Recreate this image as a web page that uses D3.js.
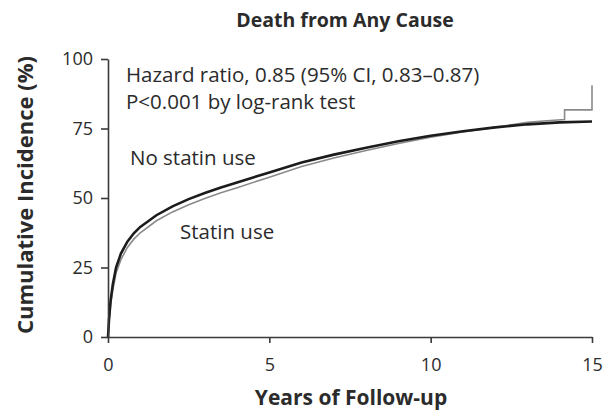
<!DOCTYPE html>
<html>
  <head>
    <title>Death from Any Cause</title>
    <script src="https://d3js.org/d3.v7.min.js"></script>
    <style>
      body {
        margin: 0;
        background-color: white;
      }
      svg text {
        font-family: "Open Sans", sans-serif;
        fill: #2b2b2b;
      }
      .axis path,
      .axis line {
        stroke: #3a3a3a;
        stroke-width: 1.6px;
      }
      .axis text {
        font-size: 18px;
      }
    </style>
  </head>
  <body>
    <script>
      // cumulative incidence (%) by years of follow-up
      const noStatinYears = [0, 0.03, 0.08, 0.15, 0.25, 0.4, 0.6, 0.8, 1, 1.5, 2, 2.5, 3, 3.5, 4, 5, 6, 7, 8, 9, 10, 11, 12, 13, 14, 15];
      const noStatinPct   = [0, 6, 13, 19, 25, 30, 34.3, 37.3, 39.6, 43.8, 47, 49.6, 51.8, 53.8, 55.6, 59.2, 62.8, 65.6, 68.1, 70.4, 72.4, 74, 75.4, 76.5, 77.2, 77.5];

      const statinYears = [0, 0.03, 0.08, 0.15, 0.25, 0.4, 0.6, 0.8, 1, 1.5, 2, 2.5, 3, 3.5, 4, 5, 6, 7, 8, 9, 10, 11, 12, 13, 13.6, 14.15, 14.15, 15, 15];
      const statinPct   = [0, 5.3, 11.5, 17, 23, 27.8, 32.2, 35.2, 37.5, 41.8, 45, 47.6, 49.8, 51.9, 53.7, 57.5, 61.3, 64.4, 67.1, 69.6, 71.9, 73.8, 75.4, 77.2, 77.8, 78.2, 81.7, 81.7, 90.6];

      const xTicks = [0, 5, 10, 15];
      const yTicks = [0, 25, 50, 75, 100];

      const w = 604;
      const h = 413;

      const xScale = d3.scaleLinear()
                       .domain([0, 15])
                       .range([108, 592]);

      const yScale = d3.scaleLinear()
                       .domain([0, 100])
                       .range([337, 59]);

      const svg = d3.select('body')
                    .append('svg')
                    .attr('width', w)
                    .attr('height', h);

      const line = d3.line()
                     .x(d => xScale(d[0]))
                     .y(d => yScale(d[1]))
                     .curve(d3.curveLinear);

      const statin = statinYears.map((x, i) => [x, statinPct[i]]);
      const noStatin = noStatinYears.map((x, i) => [x, noStatinPct[i]]);

      svg.append('path')
         .datum(statin)
         .attr('d', line)
         .attr('fill', 'none')
         .attr('stroke', '#8a8a8a')
         .attr('stroke-width', 1.6);

      svg.append('path')
         .datum(noStatin)
         .attr('d', line)
         .attr('fill', 'none')
         .attr('stroke', '#1c1c1c')
         .attr('stroke-width', 2.6);

      const xAxis = d3.axisBottom(xScale)
                      .tickValues(xTicks)
                      .tickSize(6)
                      .tickSizeOuter(0)
                      .tickPadding(15);
      const yAxis = d3.axisLeft(yScale)
                      .tickValues(yTicks)
                      .tickSize(7)
                      .tickSizeOuter(0)
                      .tickPadding(8);

      svg.append('g')
         .attr('class', 'axis')
         .attr('transform', `translate(0, ${yScale(0)})`)
         .call(xAxis)
         .call(g => g.selectAll('text').attr('fill', '#2b2b2b'));

      svg.append('g')
         .attr('class', 'axis')
         .attr('transform', `translate(${xScale(0)}, 0)`)
         .call(yAxis)
         .call(g => g.selectAll('text').attr('fill', '#2b2b2b'));

      svg.selectAll('.axis .domain').attr('stroke', '#3a3a3a');

      // titles
      svg.append('text')
         .attr('x', 345)
         .attr('y', 27)
         .attr('text-anchor', 'middle')
         .style('font-size', '19.5px')
         .style('font-weight', 'bold')
         .text('Death from Any Cause');

      svg.append('text')
         .attr('x', 351)
         .attr('y', 405)
         .attr('text-anchor', 'middle')
         .style('font-size', '21px')
         .style('font-weight', 'bold')
         .text('Years of Follow-up');

      svg.append('text')
         .attr('transform', 'translate(33, 195) rotate(-90)')
         .attr('text-anchor', 'middle')
         .style('font-size', '22px')
         .style('font-weight', 'bold')
         .text('Cumulative Incidence (%)');

      // annotations
      svg.append('text')
         .attr('x', 126)
         .attr('y', 82)
         .style('font-size', '20.5px')
         .text('Hazard ratio, 0.85 (95% CI, 0.83\u20130.87)');

      svg.append('text')
         .attr('x', 126)
         .attr('y', 109)
         .style('font-size', '20.5px')
         .text('P<0.001 by log-rank test');

      svg.append('text')
         .attr('x', 130)
         .attr('y', 165)
         .style('font-size', '20.5px')
         .text('No statin use');

      svg.append('text')
         .attr('x', 180)
         .attr('y', 239)
         .style('font-size', '20.5px')
         .text('Statin use');
    </script>
  </body>
</html>
